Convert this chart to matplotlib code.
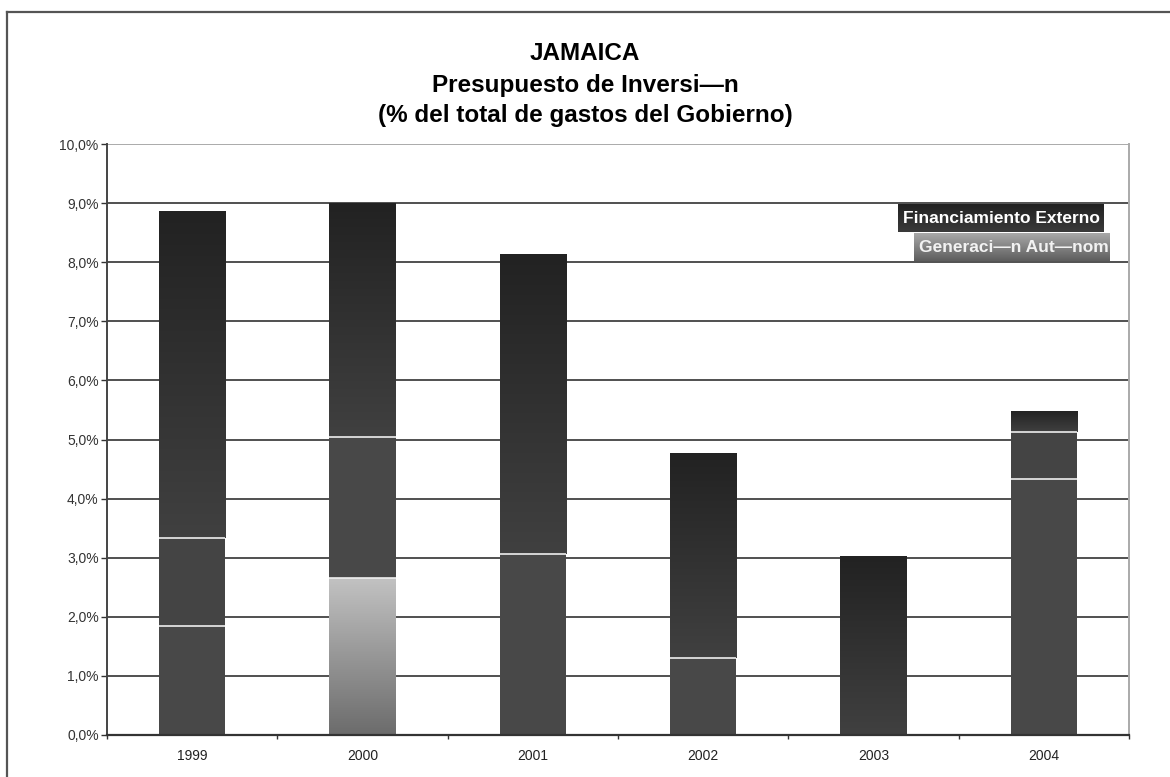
import matplotlib
matplotlib.use("Agg")
import matplotlib.pyplot as plt
import numpy as np
from matplotlib.colors import to_rgb
from matplotlib.lines import Line2D

###############################################################################
# Data (% del total de gastos del Gobierno)
years = ['1999', '2000', '2001', '2002', '2003', '2004']
gen_autonoma = [0.0, 2.66, 0.0, 0.0, 0.0, 0.0]     # Generacion Autonoma
ext_tramo1 = [1.85, 2.38, 3.06, 1.30, 0.0, 4.34]   # Financiamiento Externo, tramos
ext_tramo2 = [1.48, 0.0, 0.0, 0.0, 0.0, 0.79]
ext_tramo3 = [5.54, 3.96, 5.08, 3.47, 3.03, 0.36]
yticks = np.arange(0, 10.5, 1.0)
ylabels = ['%.1f%%' % v for v in yticks]
ylabels = [s.replace('.', ',') for s in ylabels]

###############################################################################
# Style
plt.rcParams['font.family'] = ['Liberation Sans', 'DejaVu Sans']
W = 1170; H = 777; my_dpi = 100
bar_w = 0.39
grid_c = '#505050'

fig = plt.figure(figsize=(W / my_dpi, H / my_dpi), dpi=my_dpi)
ax = fig.add_axes([107 / W, 1 - 735 / H, (1129 - 107) / W, (735 - 144) / H])

x = np.arange(len(years))


def grad_bar(xs, bottoms, heights, c_bot, c_top, z=2):
    bars = ax.bar(xs, heights, bar_w, bottom=bottoms, color='none',
                  edgecolor='none', zorder=z)
    cb = np.array(to_rgb(c_bot)); ct = np.array(to_rgb(c_top))
    t = np.linspace(0, 1, 64)[:, None, None]
    img = cb * (1 - t) + ct * t
    for p, xi, b, h in zip(bars, xs, bottoms, heights):
        if h <= 0:
            continue
        im = ax.imshow(img, extent=[xi - bar_w / 2, xi + bar_w / 2, b, b + h],
                       origin='lower', aspect='auto', interpolation='bilinear',
                       zorder=z)
        im.set_clip_path(p)
    return bars


b0 = np.zeros(len(years))
b1 = b0 + np.array(gen_autonoma)
b2 = b1 + np.array(ext_tramo1)
b3 = b2 + np.array(ext_tramo2)
tot = b3 + np.array(ext_tramo3)

grad_bar(x, b0, gen_autonoma, '#6c6c6c', '#c2c2c2')
ax.bar(x, ext_tramo1, bar_w, bottom=b1, color='#484848', zorder=2)
ax.bar(x, ext_tramo2, bar_w, bottom=b2, color='#444444', zorder=2)
grad_bar(x, b3, ext_tramo3, '#404040', '#222222')

# white separators between tramos
for bnd, h in [(b1, gen_autonoma), (b2, ext_tramo1), (b3, ext_tramo2)]:
    for xi, yb, hi, tt in zip(x, bnd, h, tot):
        if hi > 0 and yb < tt - 1e-6:
            ax.hlines(yb, xi - bar_w / 2, xi + bar_w / 2, color='#eeeeee',
                      lw=1.2, zorder=3)

ax.set_xlim(-0.5, len(years) - 0.5)
ax.set_ylim(0, 10)
ax.set_yticks(yticks)
ax.set_yticklabels(ylabels)
ax.set_xticks(x)
ax.set_xticklabels(years)
ax.set_xticks(np.arange(-0.5, len(years), 1.0), minor=True)
ax.tick_params(axis='x', which='major', length=0, pad=10, labelsize=10,
               labelcolor='#222222')
ax.tick_params(axis='x', which='minor', length=3, width=1, color='#333333',
               direction='out')
ax.tick_params(axis='y', length=4, width=1, color='#333333', pad=2,
               labelsize=10, labelcolor='#333333')

for v in yticks[1:-1]:
    ax.axhline(v, color=grid_c, lw=1.4, zorder=1)
ax.axhline(10, color='#aaaaaa', lw=1.4, zorder=1)
ax.spines['top'].set_visible(False)
ax.spines['right'].set_color('#aaaaaa')
ax.spines['right'].set_linewidth(1.4)
ax.spines['left'].set_color('#444444')
ax.spines['left'].set_linewidth(1.4)
ax.spines['bottom'].set_color('#333333')
ax.spines['bottom'].set_linewidth(1.6)

# Legend boxes
cE = np.array(to_rgb('#3a3a3a')); cE2 = np.array(to_rgb('#222222'))
t = np.linspace(0, 1, 32)[:, None, None]
ax.imshow(cE * (1 - t) + cE2 * t, extent=[4.145, 5.354, 8.51, 8.98],
          origin='lower', aspect='auto', zorder=5, clip_on=False)
cG = np.array(to_rgb('#5e5e5e')); cG2 = np.array(to_rgb('#a8a8a8'))
ax.imshow(cG * (1 - t) + cG2 * t, extent=[4.239, 5.384, 8.02, 8.49],
          origin='lower', aspect='auto', zorder=5, clip_on=False)
ax.text(4.175, 8.745, 'Financiamiento Externo', ha='left', va='center',
        color='white', fontsize=12.5, fontweight='bold', zorder=6)
ax.text(4.27, 8.255, 'Generaci\u2014n Aut\u2014nom', ha='left', va='center',
        color='#f2f2f2', fontsize=12.5, fontweight='bold', zorder=6)
ax.set_xlim(-0.5, len(years) - 0.5)
ax.set_ylim(0, 10)

# Title
fig.text(0.5, 1 - 60 / H, 'JAMAICA', ha='center', va='baseline',
         fontsize=17.5, fontweight='bold')
fig.text(0.5, 1 - 92 / H, 'Presupuesto de Inversi\u2014n', ha='center',
         va='baseline', fontsize=17.5, fontweight='bold')
fig.text(0.5, 1 - 122 / H, '(% del total de gastos del Gobierno)',
         ha='center', va='baseline', fontsize=17.5, fontweight='bold')

# page frame (top and left edges)
fig.add_artist(Line2D([7 / W, 1], [1 - 12 / H, 1 - 12 / H], color='#555555',
                      lw=1.6, transform=fig.transFigure))
fig.add_artist(Line2D([7 / W, 7 / W], [0, 1 - 12 / H], color='#555555',
                      lw=1.6, transform=fig.transFigure))

fig.savefig('out.png', dpi=my_dpi)
